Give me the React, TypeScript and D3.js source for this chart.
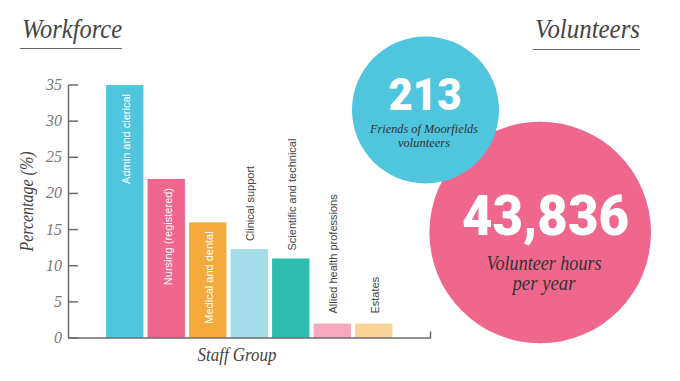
import React from "react";
import * as d3 from "d3";

const categories = [
  "Admin and clerical",
  "Nursing (registered)",
  "Medical and dental",
  "Clinical support",
  "Scientific and technical",
  "Allied health professions",
  "Estates",
];
const values = [35, 22, 16, 12.3, 11, 2, 2];
const colors = ["#4fc6de", "#f0668e", "#f5aa3c", "#a4dcea", "#2ebcaf", "#f6a8bf", "#fbd396"];
const labelInside = [true, true, true, false, false, false, false];
const yTicks = [0, 5, 10, 15, 20, 25, 30, 35];
const volunteerNumbers = ["213", "43,836"];
const volunteerCaptions = [
  ["Friends of Moorfields", "volunteers"],
  ["Volunteer hours", "per year"],
];

const serif = "Liberation Serif";
const sans = "Liberation Sans";
const heavy = "Roboto";

const serifIt = (size: number): React.CSSProperties => ({
  fontFamily: serif,
  fontStyle: "italic",
  fontSize: size,
});

export default function App() {
  const W = 680;
  const H = 381;
  const y = d3.scaleLinear().domain([0, 35]).range([338, 85]);
  const x = d3
    .scaleBand<string>()
    .domain(categories)
    .range([104, 394.5])
    .paddingInner(0.1)
    .paddingOuter(0.05);
  const axisColor = "#6b6b6b";
  const capLen = [
    [108, 52],
    [115, 63],
  ];

  return (
    <svg
      width={W}
      height={H}
      style={{ position: "absolute", left: 0, top: 0, background: "#fff" }}
    >
      {/* Titles */}
      <text x={22} y={38} style={serifIt(27)} fill="#444" textLength={100} lengthAdjust="spacingAndGlyphs">
        Workforce
      </text>
      <line x1={20} x2={122} y1={48.5} y2={48.5} stroke="#666" strokeWidth={1} />
      <text x={535} y={38} style={serifIt(27)} fill="#444" textLength={105} lengthAdjust="spacingAndGlyphs">
        Volunteers
      </text>
      <line x1={533} x2={640} y1={49.5} y2={49.5} stroke="#666" strokeWidth={1} />

      {/* Bars */}
      {categories.map((c, i) => {
        const bx = x(c)!;
        const bw = x.bandwidth();
        const top = y(values[i]);
        const cx = bx + bw / 2;
        return (
          <g key={c}>
            <rect x={bx} y={top} width={bw} height={y(0) - top} fill={colors[i]} />
            {labelInside[i] ? (
              <text
                transform={`translate(${cx + 5.5},${top + 9}) rotate(-90)`}
                textAnchor="end"
                style={{ fontFamily: sans, fontSize: 11 }}
                fill="#fff"
              >
                {c}
              </text>
            ) : (
              <text
                transform={`translate(${cx + 5},${top - (values[i] < 5 ? 10 : 8)}) rotate(-90)`}
                textAnchor="start"
                style={{ fontFamily: sans, fontSize: 11 }}
                fill="#444"
              >
                {c}
              </text>
            )}
          </g>
        );
      })}

      {/* Y axis */}
      <line x1={68.5} x2={68.5} y1={y(35)} y2={y(0)} stroke={axisColor} strokeWidth={1.5} />
      {yTicks.map((t) => (
        <g key={t}>
          <line x1={68.5} x2={78} y1={y(t)} y2={y(t)} stroke={axisColor} strokeWidth={1.5} />
          <text x={62} y={y(t) + 5} textAnchor="end" style={serifIt(16)} fill="#777">
            {t}
          </text>
        </g>
      ))}
      {/* X axis */}
      <line x1={68} x2={431} y1={y(0)} y2={y(0)} stroke={axisColor} strokeWidth={1.5} />
      <line x1={430.5} x2={430.5} y1={331.5} y2={y(0)} stroke={axisColor} strokeWidth={1.5} />

      <text
        transform={`translate(33,201.5) rotate(-90)`}
        textAnchor="middle"
        style={serifIt(18)}
        fill="#444"
        textLength={100}
        lengthAdjust="spacingAndGlyphs"
      >
        Percentage (%)
      </text>
      <text
        x={237}
        y={361}
        textAnchor="middle"
        style={serifIt(18)}
        fill="#444"
        textLength={79}
        lengthAdjust="spacingAndGlyphs"
      >
        Staff Group
      </text>

      {/* Volunteer circles */}
      <circle cx={540.2} cy={232.5} r={110.8} fill="#f0678e" />
      <circle cx={425.5} cy={110} r={73.5} fill="#4fc6de" />

      <text
        x={425}
        y={110}
        textAnchor="middle"
        style={{ fontFamily: heavy, fontWeight: 900, fontSize: 45 }}
        fill="#fff"
        textLength={73}
        lengthAdjust="spacingAndGlyphs"
      >
        {volunteerNumbers[0]}
      </text>
      {volunteerCaptions[0].map((l, i) => (
        <text
          key={l}
          x={424}
          y={133 + i * 13.5}
          textAnchor="middle"
          style={serifIt(13)}
          fill="#333"
          textLength={capLen[0][i]}
          lengthAdjust="spacingAndGlyphs"
        >
          {l}
        </text>
      ))}
      <text
        x={545.5}
        y={235}
        textAnchor="middle"
        style={{ fontFamily: heavy, fontWeight: 900, fontSize: 55 }}
        fill="#fff"
        textLength={167}
        lengthAdjust="spacingAndGlyphs"
      >
        {volunteerNumbers[1]}
      </text>
      {volunteerCaptions[1].map((l, i) => (
        <text
          key={l}
          x={544}
          y={270 + i * 20}
          textAnchor="middle"
          style={serifIt(20)}
          fill="#333"
          textLength={capLen[1][i]}
          lengthAdjust="spacingAndGlyphs"
        >
          {l}
        </text>
      ))}
    </svg>
  );
}
